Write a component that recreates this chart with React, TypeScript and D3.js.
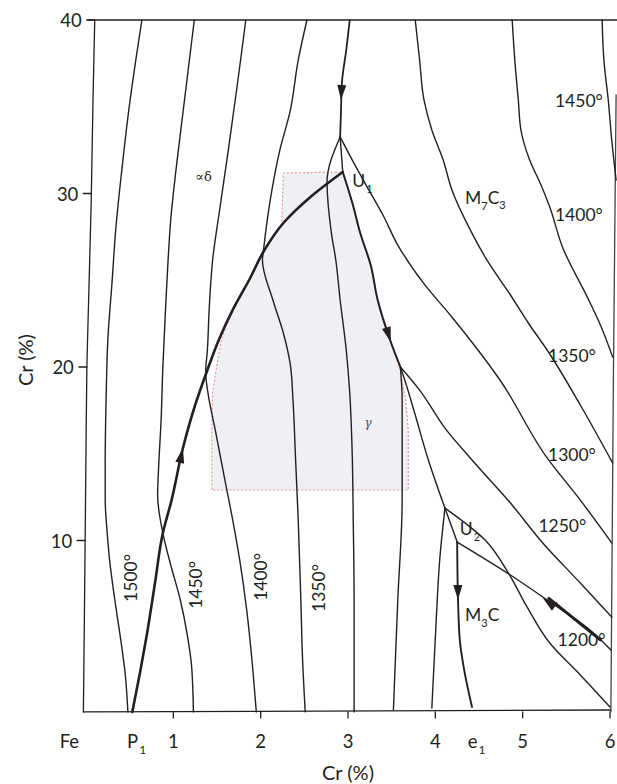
import React from 'react';
import * as d3 from 'd3';

type P = [number, number];

// ---- axes ----
const xTicks = [1, 2, 3, 4, 5, 6];
const yTicks = [10, 20, 30, 40];

// ---- curves (x: %, y: %) ----
const leftBoundary: P[] = [[0.10, 40], [0.08, 35.39], [0.06, 29.63], [0.03, 23.86], [0.01, 20.0], [0, 15.22], [-0.01, 9.91], [-0.02, 4.84], [-0.03, 0.12]];
const rightBoundary: P[] = [[6.07, 35.68], [6.04, 20.0], [6.01, 0.12]];
const topBorder: P[] = [[0.023, 40], [6.08, 40]];
const bottomBorder: P[] = [[-0.03, 0.12], [6.01, 0.23]];

const iso1500: P[] = [[0.64, 40], [0.57, 37.69], [0.49, 34.81], [0.41, 31.35], [0.34, 27.90], [0.30, 25.01], [0.25, 21.56], [0.23, 18.10], [0.22, 14.64], [0.22, 12.33], [0.24, 10.61], [0.27, 8.88], [0.33, 6.57], [0.39, 4.55], [0.45, 2.25], [0.48, 0.12]];
const iso1450: P[] = [[1.24, 40], [1.17, 37.12], [1.10, 34.24], [1.03, 31.35], [0.97, 28.47], [0.94, 26.17], [0.91, 23.29], [0.88, 20.0], [0.86, 16.95], [0.83, 14.06], [0.82, 12.6], [0.88, 10.43], [0.97, 8.59], [1.08, 6.57], [1.16, 4.55], [1.21, 2.71], [1.23, 0.12]];
const iso1400: P[] = [[1.83, 40], [1.74, 36.54], [1.63, 32.51], [1.53, 29.05], [1.45, 26.17], [1.41, 23.29], [1.39, 20.98], [1.37, 19.71], [1.40, 18.39], [1.48, 16.37], [1.59, 13.49], [1.68, 11.18], [1.76, 8.88], [1.84, 6.0], [1.90, 3.11], [1.95, 0.12]];
const iso1350: P[] = [[2.53, 40], [2.43, 37.69], [2.34, 34.81], [2.22, 32.51], [2.11, 29.63], [2.03, 26.63], [2.02, 26.17], [2.14, 23.86], [2.26, 21.96], [2.34, 20.12], [2.37, 18.10], [2.40, 14.64], [2.43, 11.18], [2.46, 6.57], [2.48, 3.11], [2.51, 0.12]];

const peritectic: P[] = [[0.53, 0.12], [0.62, 2.42], [0.70, 4.67], [0.79, 7.55], [0.88, 10.43], [0.98, 12.33], [1.11, 15.33], [1.25, 17.81], [1.39, 19.83], [1.53, 21.67], [1.68, 23.29], [1.88, 25.13], [2.03, 26.63], [2.26, 28.30], [2.57, 29.80], [2.94, 31.24]];

const topArrowLine: P[] = [[3.02, 40], [2.98, 38.27], [2.93, 36.37], [2.92, 34.81], [2.91, 33.26]];
const junctionToU1: P[] = [[2.91, 33.26], [2.94, 31.24]];
const leftBranch: P[] = [[2.91, 33.26], [2.76, 30.66], [2.81, 27.72], [2.86, 26.17], [2.91, 23.86], [2.98, 20.98], [3.02, 18.50], [3.05, 14.64], [3.06, 11.18], [3.07, 6.57], [3.07, 0.12]];
const univariantU1: P[] = [[2.94, 31.24], [3.05, 29.45], [3.14, 27.72], [3.26, 25.88], [3.34, 23.86], [3.49, 21.44], [3.60, 20.0]];
const line1: P[] = [[2.91, 33.26], [3.06, 31.82], [3.22, 30.37], [3.40, 28.76], [3.57, 27.03], [3.88, 24.73], [4.17, 23.0], [4.74, 19.25], [5.28, 14.76], [5.66, 12.33], [6.02, 9.86]];
const line2: P[] = [[3.77, 40], [3.82, 37.69], [3.87, 35.39], [3.96, 33.66], [4.09, 31.93], [4.19, 30.20], [4.40, 27.90], [4.59, 26.17], [4.86, 24.15], [5.08, 22.42], [5.28, 20.98], [5.66, 17.81], [6.03, 14.47]];
const line3: P[] = [[4.88, 40], [4.91, 37.69], [4.95, 35.39], [4.98, 33.66], [5.08, 31.93], [5.21, 30.49], [5.31, 29.22], [5.46, 26.86], [5.74, 24.03], [5.89, 22.42], [6.03, 20.58]];
const line4: P[] = [[5.91, 40], [5.93, 37.69], [5.98, 35.39], [6.02, 33.08], [6.07, 30.78]];

const j2Down: P[] = [[3.60, 20.0], [3.62, 18.10], [3.62, 14.64], [3.62, 12.33], [3.57, 6.57], [3.52, 0.23]];
const j2Steep: P[] = [[3.60, 20.0], [3.65, 19.25], [3.77, 17.23], [3.92, 14.64], [4.11, 11.87]];
const j2Shallow: P[] = [[3.60, 20.0], [3.82, 18.67], [4.11, 16.48], [4.42, 14.64], [4.86, 12.16], [5.23, 9.86], [5.66, 7.55], [6.02, 5.59]];
const j3Down: P[] = [[4.11, 11.87], [4.05, 8.88], [4.01, 5.42], [3.96, 0.35]];
const j3ToU2: P[] = [[4.11, 11.87], [4.25, 9.91]];
const cornerCurve: P[] = [[4.11, 11.87], [4.57, 10.03], [4.83, 8.18], [5.05, 6.17], [5.31, 4.09], [5.66, 2.25], [6.0, 0.40]];
const u2Down: P[] = [[4.25, 9.91], [4.26, 6.57], [4.28, 4.27], [4.33, 2.54], [4.42, 0.40]];
const u2Right: P[] = [[4.25, 9.91], [4.86, 8.01], [5.28, 6.57], [5.77, 4.84], [6.01, 3.69]];

const gammaRegion: P[] = [[2.94, 31.24], [3.05, 29.45], [3.14, 27.72], [3.26, 25.88], [3.34, 23.86], [3.48, 21.67], [3.60, 19.77], [3.66, 18.10], [3.69, 16.37], [3.69, 12.91], [1.44, 12.91], [1.44, 16.37], [1.45, 18.50], [1.50, 20.17], [1.56, 21.79], [1.68, 23.29], [1.88, 25.13], [2.03, 26.63], [2.24, 28.18], [2.26, 31.18]];

// arrows: [tail, tip]
const arrows: [P, P][] = [
  [[2.93, 36.37], [2.92, 35.39]],
  [[0.98, 12.33], [1.11, 15.33]],
  [[3.34, 23.86], [3.49, 21.44]],
  [[4.25, 9.91], [4.26, 6.57]],
  [[5.89, 4.27], [5.23, 6.69]],
];
const boldArrowShaft: P[] = [[5.89, 4.27], [5.30, 6.66]];

const isoLabels: { t: string; x: number; y: number }[] = [
  { t: '1450°', x: 5.37, y: 34.99 },
  { t: '1400°', x: 5.37, y: 28.41 },
  { t: '1350°', x: 5.29, y: 20.29 },
  { t: '1300°', x: 5.29, y: 14.58 },
  { t: '1250°', x: 5.18, y: 10.49 },
  { t: '1200°', x: 5.40, y: 3.92 },
];
const vertLabels: { t: string; x: number; y: number }[] = [
  { t: '1500°', x: 0.58, y: 7.84 },
  { t: '1450°', x: 1.33, y: 7.44 },
  { t: '1400°', x: 2.07, y: 7.90 },
  { t: '1350°', x: 2.74, y: 7.26 },
];

const W = 617;
const H = 784;
const INK = '#231f20';
const FONT = 'Lato, "Open Sans", "DejaVu Sans", sans-serif';

export default function App() {
  const x = d3.scaleLinear().domain([0, 6]).range([86, 610]);
  const y = d3.scaleLinear().domain([0, 40]).range([714, 20]);
  const line = d3.line<P>().x(d => x(d[0])).y(d => y(d[1])).curve(d3.curveMonotoneY);
  const straight = d3.line<P>().x(d => x(d[0])).y(d => y(d[1]));

  const boundaryXAt = (v: number) => {
    for (let i = 0; i < leftBoundary.length - 1; i++) {
      const a = leftBoundary[i], b = leftBoundary[i + 1];
      if (v <= a[1] && v >= b[1]) {
        const t = (a[1] - v) / (a[1] - b[1]);
        return a[0] + t * (b[0] - a[0]);
      }
    }
    return 0;
  };

  const arrowHead = (tail: P, tip: P, len = 15, half = 4.5) => {
    const x1 = x(tail[0]), y1 = y(tail[1]), x2 = x(tip[0]), y2 = y(tip[1]);
    const dx = x2 - x1, dy = y2 - y1;
    const d = Math.hypot(dx, dy);
    const ux = dx / d, uy = dy / d;
    const bx = x2 - ux * len, by = y2 - uy * len;
    const px = -uy, py = ux;
    return `M${x2},${y2}L${bx + px * half},${by + py * half}L${bx - px * half},${by - py * half}Z`;
  };

  const thin = [leftBranch, junctionToU1, line1, line2, line3, line4, iso1500, iso1450, iso1400, iso1350, j2Down, j2Steep, j2Shallow, j3Down, j3ToU2, cornerCurve, u2Right];

  const base = y(0) + 34;

  return (
    <svg width={W} height={H} style={{ position: 'absolute', left: 0, top: 0, background: '#fff' }} fontFamily={FONT}>
      <rect width={W} height={H} fill="#fff" />
      <path d={straight(gammaRegion) + 'Z'} fill="#eff0f3" stroke="#f08a8a" strokeWidth={1.1} strokeDasharray="2 2" />

      <g fill="none" stroke={INK} strokeLinejoin="round" strokeLinecap="round">
        <path d={straight(topBorder)!} strokeWidth={1.3} />
        <path d={straight(bottomBorder)!} strokeWidth={1.3} />
        <path d={line(leftBoundary)!} strokeWidth={1.3} />
        <path d={straight(rightBoundary)!} strokeWidth={1.3} stroke="#444" />
        {thin.map((c, i) => <path key={i} d={line(c)!} strokeWidth={1.4} />)}
        <path d={line(topArrowLine)!} strokeWidth={1.8} />
        <path d={line(univariantU1)!} strokeWidth={2} />
        <path d={line(u2Down)!} strokeWidth={1.9} />
        <path d={line(peritectic)!} strokeWidth={2.6} />
        <path d={straight(boldArrowShaft)!} strokeWidth={3} />
        {yTicks.map(v => {
          const xb = x(boundaryXAt(v));
          return <line key={v} x1={xb - 8} x2={xb} y1={y(v)} y2={y(v)} strokeWidth={1.3} />;
        })}
        {xTicks.map(v => <line key={v} x1={x(v)} x2={x(v)} y1={y(0.12)} y2={y(0.12) + 6} strokeWidth={1.3} />)}
      </g>

      <g fill={INK}>
        {arrows.map((a, i) => <path key={i} d={arrowHead(a[0], a[1], 15, i === 4 ? 5 : 4.5)} />)}
      </g>

      <g fill={INK} fontSize={18.5}>
        {yTicks.map(v => (
          <text key={v} x={x(boundaryXAt(v)) - 13} y={y(v) + 7} textAnchor="end">{v}</text>
        ))}
        {xTicks.map(v => (
          <text key={v} x={x(v)} y={base} textAnchor="middle">{v}</text>
        ))}
        <text x={x(-0.19)} y={base} textAnchor="middle">Fe</text>
        <text x={x(0.47)} y={base}>P<tspan fontSize={12} dx={1} dy={6}>1</tspan></text>
        <text x={x(4.37)} y={base}>e<tspan fontSize={12} dx={1} dy={6}>1</tspan></text>
      </g>
      <g fill={INK} fontSize={20}>
        <text x={x(3)} y={H - 4} textAnchor="middle">Cr (%)</text>
        <text transform={`translate(33,${y(20.4)}) rotate(-90)`} textAnchor="middle">Cr (%)</text>
      </g>

      <g fill={INK} fontSize={17.5}>
        {isoLabels.map((l, i) => <text key={i} x={x(l.x)} y={y(l.y)}>{l.t}</text>)}
        {vertLabels.map((l, i) => (
          <text key={i} transform={`translate(${x(l.x)},${y(l.y)}) rotate(-90)`} textAnchor="middle">{l.t}</text>
        ))}
        <text x={x(3.05)} y={y(30.37)}>U<tspan fontSize={11} dx={1} dy={6}>1</tspan></text>
        <text x={x(4.34)} y={y(29.39)}>M<tspan fontSize={11} dy={6}>7</tspan><tspan dy={-6}>C</tspan><tspan fontSize={11} dy={5}>3</tspan></text>
        <text x={x(4.28)} y={y(10.32)}>U<tspan fontSize={11} dx={1} dy={6}>2</tspan></text>
        <text x={x(4.34)} y={y(5.36)}>M<tspan fontSize={11} dy={6}>3</tspan><tspan dy={-6}>C</tspan></text>
        <text x={x(1.25)} y={y(30.72)} fontSize={13} fontFamily='"DejaVu Serif", serif'>∝δ</text>
        <text x={x(3.19)} y={y(16.54)} fontSize={12} fill="#555" fontStyle="italic" fontFamily='"DejaVu Serif", serif'>γ</text>
      </g>
    </svg>
  );
}
